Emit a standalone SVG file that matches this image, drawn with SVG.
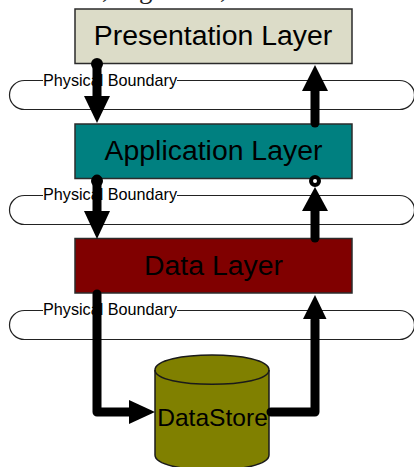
<svg xmlns="http://www.w3.org/2000/svg" width="414" height="467" viewBox="0 0 414 467">
<style>
.box{stroke:#2b2b2b;stroke-width:1.5}
.big{font-family:"Liberation Sans",Arial,sans-serif;font-size:28.400px;fill:#000;text-anchor:middle}
.lbl{font-family:"Liberation Sans",Arial,sans-serif;font-size:16.200px;fill:#000}
.bound{fill:#fff;stroke:#222;stroke-width:1.2}
.lblbg{fill:#fff}
.wire{fill:none;stroke:#000;stroke-width:9;stroke-linejoin:round;stroke-linecap:round}
</style>
<text x="102 139 220" y="-2" font-family="'Liberation Serif',serif" font-size="27" fill="#222">,g,</text>
<g id="boundaries">
<g id="boundary-1"><rect class="bound" x="9.500" y="80.500" width="405" height="29" rx="15" ry="14.500"/><rect class="lblbg" x="43" y="72" width="134" height="17"/><text class="lbl" x="43" y="85.500">Physical Boundary</text></g>
<g id="boundary-2"><rect class="bound" x="9.500" y="195.500" width="405" height="29" rx="15" ry="14.500"/><rect class="lblbg" x="43" y="187" width="134" height="17"/><text class="lbl" x="43" y="200">Physical Boundary</text></g>
<g id="boundary-3"><rect class="bound" x="9.500" y="310.500" width="405" height="29" rx="15" ry="14.500"/><rect class="lblbg" x="43" y="302" width="134" height="17"/><text class="lbl" x="43" y="315">Physical Boundary</text></g>
</g>
<g id="presentation-layer"><rect class="box" x="75" y="9" width="277" height="54.500" fill="#dcdcc8"/><text class="big" x="213" y="45">Presentation Layer</text></g>
<g id="application-layer"><rect class="box" x="75" y="124" width="277" height="54.500" fill="#008080"/><text class="big" x="213.500" y="160">Application Layer</text></g>
<g id="data-layer"><rect class="box" x="75" y="238.500" width="277" height="54.500" fill="#800000"/><text class="big" x="213.500" y="275">Data Layer</text></g>
<g id="datastore">
<path d="M155 370C155 350 269 350 269 370V455C269 475 155 475 155 455Z" fill="#808000" stroke="#1a1a1a" stroke-width="1.500"/>
<path d="M155 370C155 389 269 389 269 370" fill="none" stroke="#1a1a1a" stroke-width="1.500"/>
<text x="212.500" y="426" font-family="'Liberation Sans',Arial,sans-serif" font-size="24.600" text-anchor="middle">DataStore</text>
</g>
<g id="connectors">
<path class="wire" d="M97 64V100"/><circle cx="97" cy="64" r="6"/><path d="M84 96H110L97 123Z"/>
<path class="wire" d="M315 90V123"/><path d="M302 91H328L315 65Z"/>
<path class="wire" d="M97 179V215"/><circle cx="97" cy="181" r="6"/><path d="M84 211H110L97 239Z"/>
<path class="wire" d="M315 205V238"/><path d="M302 211H328L315 187Z"/><circle cx="315" cy="181" r="4" fill="#fff" stroke="#000" stroke-width="4"/>
<path class="wire" d="M97 294V412H135"/><path d="M129 400V424L155 412Z"/>
<path class="wire" d="M271 412H315V320"/><path d="M303 319H326.500L315 295Z"/>
</g>
</svg>
